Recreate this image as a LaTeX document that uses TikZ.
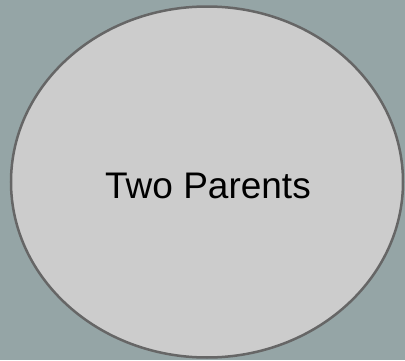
\documentclass[tikz,border=0pt]{standalone}
\usepackage{fontspec}
\setmainfont{Liberation Sans}
\usetikzlibrary{shapes.geometric}
\definecolor{bgcol}{HTML}{95A5A6}
\definecolor{fillcol}{HTML}{CCCCCC}
\definecolor{edgecol}{HTML}{666666}
\tikzset{
  bubble/.style={ellipse, draw=edgecol, fill=fillcol, line width=2.5pt,
    minimum width=392pt, minimum height=351pt, inner sep=0pt},
  bubbletext/.style={font=\fontsize{37}{44}\selectfont, text=black, inner sep=0pt, anchor=base}
}
\begin{document}
\begin{tikzpicture}[x=1pt,y=1pt]
  \fill[bgcol] (0,0) rectangle (405,360);
  \useasboundingbox (0,0) rectangle (405,360);
  \node[bubble] (parents) at (207,178) {};
  \node[bubbletext] (label) at (208,162) {Two Parents};
\end{tikzpicture}
\end{document}
